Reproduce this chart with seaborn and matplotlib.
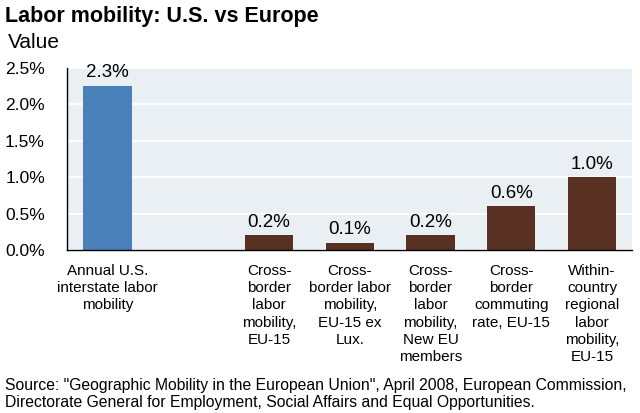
import pandas as pd
import seaborn as sns
import matplotlib.pyplot as plt
from matplotlib.ticker import FuncFormatter, FixedLocator

# Data (percent)
categories = [
    "Annual U.S.\ninterstate labor\nmobility",
    "Cross-\nborder\nlabor\nmobility,\nEU-15",
    "Cross-\nborder labor\nmobility,\nEU-15 ex\nLux.",
    "Cross-\nborder\nlabor\nmobility,\nNew EU\nmembers",
    "Cross-\nborder\ncommuting\nrate, EU-15",
    "Within-\ncountry\nregional\nlabor\nmobility,\nEU-15",
]
values = [2.26, 0.2, 0.1, 0.2, 0.6, 1.0]
groups = ["US", "EU", "EU", "EU", "EU", "EU"]
order = [categories[0], " "] + categories[1:]

df = pd.DataFrame({"category": categories, "value": values, "group": groups})

sns.set_style("white")
plt.rcParams["font.family"] = ["Liberation Sans", "DejaVu Sans"]
plt.rcParams["text.color"] = "black"
plt.rcParams["xtick.color"] = "black"
plt.rcParams["ytick.color"] = "black"

fig = plt.figure(figsize=(6.4, 4.13), dpi=100)
ax = fig.add_axes([0.105, 0.395, 0.883, 0.44])
ax.set_facecolor("#e9eff3")

sns.barplot(data=df, x="category", y="value", hue="group", order=order,
            palette={"US": "#4a80ba", "EU": "#573021"}, dodge=False,
            saturation=1, width=0.6, linewidth=0, legend=False, ax=ax)

for c in ax.containers:
    ax.bar_label(c, fmt="%.1f%%", padding=3, fontsize=13.5)

ax.set_ylim(0, 2.5)
ax.set_xlim(-0.5, len(order) - 0.5)
ax.yaxis.set_major_locator(FixedLocator([0, 0.5, 1.0, 1.5, 2.0, 2.5]))
ax.yaxis.set_major_formatter(FuncFormatter(lambda v, p: f"{v:.1f}%"))
ax.grid(axis="y", color="white", linewidth=1.2)
ax.set_axisbelow(True)

ax.set_xlabel("")
ax.set_ylabel("")
ax.tick_params(axis="y", which="major", direction="out", length=4, width=1,
               labelsize=12.5, pad=12)
ax.tick_params(axis="x", which="major", length=0, labelsize=11, pad=10)
ax.set_xticks([i + 0.5 for i in range(len(order) - 1)], minor=True)
ax.tick_params(axis="x", which="minor", direction="out", length=4, width=1)
for lbl in ax.get_xticklabels():
    lbl.set_verticalalignment("top")
    lbl.set_linespacing(1.3)

for side in ["top", "right"]:
    ax.spines[side].set_visible(False)
for side in ["left", "bottom"]:
    ax.spines[side].set_color("black")
    ax.spines[side].set_linewidth(1)

fig.text(0.008, 0.985, "Labor mobility: U.S. vs Europe", fontsize=15.5,
         fontweight="bold", va="top")
fig.text(0.012, 0.92, "Value", fontsize=15, va="top")
fig.text(0.008, 0.008,
         "Source: \"Geographic Mobility in the European Union\", April 2008, European Commission,\n"
         "Directorate General for Employment, Social Affairs and Equal Opportunities.",
         fontsize=11.3, va="bottom", linespacing=1.1)

fig.savefig("out.png", dpi=100)
